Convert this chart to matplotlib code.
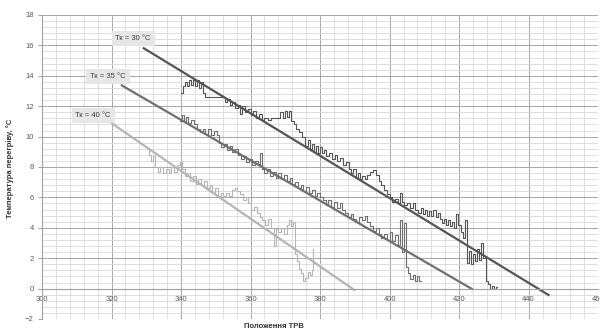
import numpy as np
import matplotlib
matplotlib.use('Agg')
import matplotlib.pyplot as plt
from matplotlib.ticker import MultipleLocator

plt.rcParams['font.family'] = ['Liberation Sans', 'DejaVu Sans']

# measured series (steps)
x30 = [340.0, 340.6, 341.0, 341.6, 342.2, 342.8, 343.4, 344.0, 344.6, 345.2, 345.8, 346.4, 347.0, 349.0,
       351.0, 352.6, 353.2, 354.0, 354.8, 355.6, 356.4, 357.0, 357.6, 358.4, 359.2, 360.0, 360.8, 361.6,
       362.4, 363.2, 364.0, 365.0, 366.0, 367.0, 368.0, 368.6, 369.2, 369.8, 370.4, 371.0, 371.6, 372.4,
       373.2, 374.0, 374.8, 375.6, 376.4, 377.0, 377.6, 378.2, 378.8, 379.4, 380.0, 380.6, 381.2, 381.8,
       382.6, 383.4, 384.2, 385.0, 385.8, 386.6, 387.4, 388.2, 389.0, 389.6, 390.2, 390.8, 391.4, 392.0,
       392.8, 393.6, 394.4, 395.2, 396.0, 396.8, 397.6, 398.4, 399.2, 400.0, 400.8, 401.6, 402.4, 403.0,
       403.6, 404.2, 405.0, 405.8, 406.6, 407.4, 408.2, 409.0, 409.6, 410.2, 410.8, 411.4, 412.0, 412.6,
       413.2, 413.8, 414.4, 415.0, 415.6, 416.2, 416.8, 417.4, 418.0, 418.6, 419.2, 419.8, 420.4, 421.0,
       421.6, 422.2, 422.8, 423.4, 424.0, 424.6, 425.2, 425.8, 426.4, 427.0, 427.6, 428.2, 428.8, 429.4,
       430.0, 430.6, 431.0]
y30 = [12.9, 13.3, 13.6, 13.3, 13.7, 13.4, 13.7, 13.3, 13.7, 13.2, 13.6, 12.9, 12.6, 12.6,
       12.6, 12.3, 12.5, 12.1, 12.3, 11.9, 12.1, 11.5, 12.0, 11.6, 11.8, 11.4, 11.7, 11.2,
       11.5, 11.1, 11.2, 11.1, 11.2, 11.2, 11.2, 11.6, 11.2, 11.7, 11.3, 11.7, 11.0, 10.8,
       10.5, 10.3, 10.0, 9.4, 9.8, 9.2, 9.5, 9.0, 9.4, 8.9, 9.3, 8.9, 9.1, 8.7,
       8.9, 8.5, 8.8, 8.4, 8.6, 8.1, 8.3, 7.9, 7.6, 7.9, 7.3, 7.6, 7.2, 7.4,
       7.2, 7.5, 7.7, 7.8, 7.5, 7.1, 6.8, 6.5, 6.2, 6.0, 5.7, 5.9, 5.6, 6.3,
       5.7, 5.5, 5.6, 5.3, 5.6, 5.2, 5.0, 5.3, 4.9, 5.2, 4.8, 5.1, 4.8, 5.2,
       4.7, 5.0, 4.6, 4.3, 4.6, 4.2, 4.5, 4.1, 4.4, 4.0, 4.9, 4.2, 3.7, 3.3,
       4.5, 1.7, 2.5, 1.6, 2.3, 1.8, 2.6, 1.9, 3.0, 2.0, 0.5, 0.3, 0.0, 0.2,
       0.0, 0.1, 0.1]

x35 = [339.7, 340.2, 340.8, 341.4, 342.0, 342.8, 343.6, 344.6, 345.4, 346.2, 347.0, 347.8, 348.6, 349.4,
       350.2, 350.8, 351.6, 352.4, 353.2, 354.0, 354.8, 355.6, 356.4, 357.2, 358.0, 358.8, 359.6, 360.4,
       361.2, 362.0, 362.6, 363.2, 364.0, 364.8, 365.6, 366.4, 367.2, 368.0, 368.8, 369.6, 370.4, 371.2,
       372.0, 372.8, 373.6, 374.4, 375.2, 376.0, 376.8, 377.6, 378.4, 379.2, 380.0, 380.8, 381.6, 382.4,
       383.2, 384.0, 384.8, 385.6, 386.4, 387.2, 388.0, 388.8, 389.6, 390.4, 391.2, 392.0, 392.8, 393.6,
       394.4, 395.2, 396.0, 396.8, 397.6, 398.4, 399.2, 400.0, 400.8, 401.6, 402.4, 403.0, 403.6, 404.2,
       404.8, 405.4, 406.0, 406.6, 407.2, 407.8, 408.4, 409.0]
y35 = [11.0, 11.4, 11.0, 11.3, 10.9, 11.1, 10.8, 10.5, 10.3, 10.5, 10.2, 10.5, 10.1, 10.4,
       10.1, 9.6, 9.3, 9.5, 9.1, 9.4, 9.0, 9.2, 8.8, 8.5, 8.7, 8.3, 8.5, 8.1,
       8.4, 8.2, 8.9, 7.9, 7.6, 7.9, 7.4, 7.7, 7.3, 7.6, 7.2, 7.5, 7.1, 7.3,
       6.9, 7.0, 6.6, 6.8, 6.4, 6.7, 6.3, 6.5, 6.1, 6.3, 6.0, 5.8, 5.5, 5.8,
       5.4, 5.7, 5.3, 5.6, 5.2, 5.0, 4.7, 4.9, 4.6, 4.4, 4.7, 4.5, 4.8, 4.4,
       4.1, 3.8, 4.0, 3.6, 3.3, 3.6, 3.2, 3.7, 3.1, 3.5, 2.9, 4.5, 2.4, 4.3,
       1.4, 1.0, 0.6, 0.9, 0.5, 0.8, 0.5, 0.5]

x40 = [330.2, 330.8, 331.4, 332.0, 332.6, 333.4, 334.0, 334.8, 335.6, 336.4, 337.2, 338.0, 338.8, 339.6,
       340.4, 341.0, 341.8, 342.6, 343.4, 344.2, 345.0, 345.8, 346.6, 347.4, 348.2, 349.0, 349.8, 350.6,
       351.4, 352.2, 353.0, 353.8, 354.6, 355.4, 356.2, 357.0, 357.8, 358.6, 359.4, 360.2, 361.0, 361.8,
       362.6, 363.4, 364.2, 365.0, 365.8, 366.6, 367.2, 368.0, 368.8, 369.6, 370.4, 371.0, 371.6, 372.2,
       372.8, 373.4, 374.0, 374.6, 375.2, 375.8, 376.4, 377.0, 377.6, 378.0]
y40 = [9.2, 8.8, 8.4, 8.7, 8.0, 7.7, 8.0, 7.6, 7.9, 7.6, 8.0, 7.7, 8.1, 8.3,
       7.9, 7.4, 7.6, 7.1, 7.4, 6.9, 7.2, 6.8, 7.1, 6.6, 6.8, 6.3, 6.6, 6.1,
       6.3, 6.1, 6.3, 6.1, 6.5, 6.6, 6.4, 6.2, 5.8, 6.0, 5.6, 5.2, 5.4, 5.0,
       4.7, 4.5, 4.2, 4.6, 4.0, 2.8, 3.9, 3.7, 4.0, 3.6, 4.2, 4.5, 4.1, 4.4,
       2.3, 1.8, 1.3, 1.0, 0.5, 0.7, 1.1, 0.9, 1.2, 2.6]

# trend lines (end points)
trend30_x = [329.0, 446.0]
trend30_y = [15.85, -0.46]
trend35_x = [322.7, 424.0]
trend35_y = [13.4, -0.07]
trend40_x = [319.9, 390.1]
trend40_y = [10.9, -0.13]

labels = ['Тк = 30 °C', 'Тк = 35 °C', 'Тк = 40 °C']
label_pos = [(326.2, 16.45), (319.0, 13.95), (314.7, 11.4)]

c30, c35, c40 = '#555555', '#707070', '#b5b5b5'

fig = plt.figure(figsize=(6, 3.36), dpi=100)
ax = fig.add_axes([0.07, 0.0506, 0.927, 0.9048])

ax.plot(x40, y40, drawstyle='steps-post', color=c40, lw=0.8)
ax.plot(x35, y35, drawstyle='steps-post', color=c35, lw=0.8)
ax.plot(x30, y30, drawstyle='steps-post', color=c30, lw=0.8)

ax.plot(trend40_x, trend40_y, color=c40, lw=1.6, solid_capstyle='butt')
ax.plot(trend35_x, trend35_y, color=c35, lw=1.6, solid_capstyle='butt')
ax.plot(trend30_x, trend30_y, color=c30, lw=1.6, solid_capstyle='butt')

for txt, (lx, ly) in zip(labels, label_pos):
    ax.text(lx, ly, txt, fontsize=5.5, color='#404040', ha='center', va='center',
            bbox=dict(boxstyle='square,pad=0.5', fc='#e6e6e6', ec='none'))

ax.set_xlim(300, 460)
ax.set_ylim(-2, 18)
ax.xaxis.set_major_locator(MultipleLocator(20))
ax.xaxis.set_minor_locator(MultipleLocator(4))
ax.yaxis.set_major_locator(MultipleLocator(2))
ax.yaxis.set_minor_locator(MultipleLocator(0.4))
ax.grid(which='major', color='#a6a6a6', lw=0.7)
ax.grid(which='minor', color='#d9d9d9', lw=0.6)
ax.set_axisbelow(True)

for s in ['top', 'right']:
    ax.spines[s].set_visible(False)
ax.spines['bottom'].set_position(('data', 0))
ax.spines['bottom'].set_color('#a0a0a0')
ax.spines['left'].set_color('#a0a0a0')
ax.spines['bottom'].set_linewidth(0.8)
ax.spines['left'].set_linewidth(0.8)
ax.tick_params(axis='both', which='both', labelsize=5.5, colors='#a0a0a0', labelcolor='#595959')
ax.tick_params(axis='y', which='major', length=3, width=0.7, pad=3)
ax.tick_params(axis='x', which='major', length=0, pad=5)
ax.tick_params(which='minor', length=0)

fig.text(10 / 600, 0.5, 'Температура перегріву, °С', fontsize=5.5, fontweight='bold',
         color='#333333', ha='center', va='center', rotation=90)
fig.text(274 / 600, 1 - 326 / 336, 'Положення ТРВ', fontsize=5.5, fontweight='bold',
         color='#333333', ha='center', va='center')

fig.savefig('out.png', dpi=100)
